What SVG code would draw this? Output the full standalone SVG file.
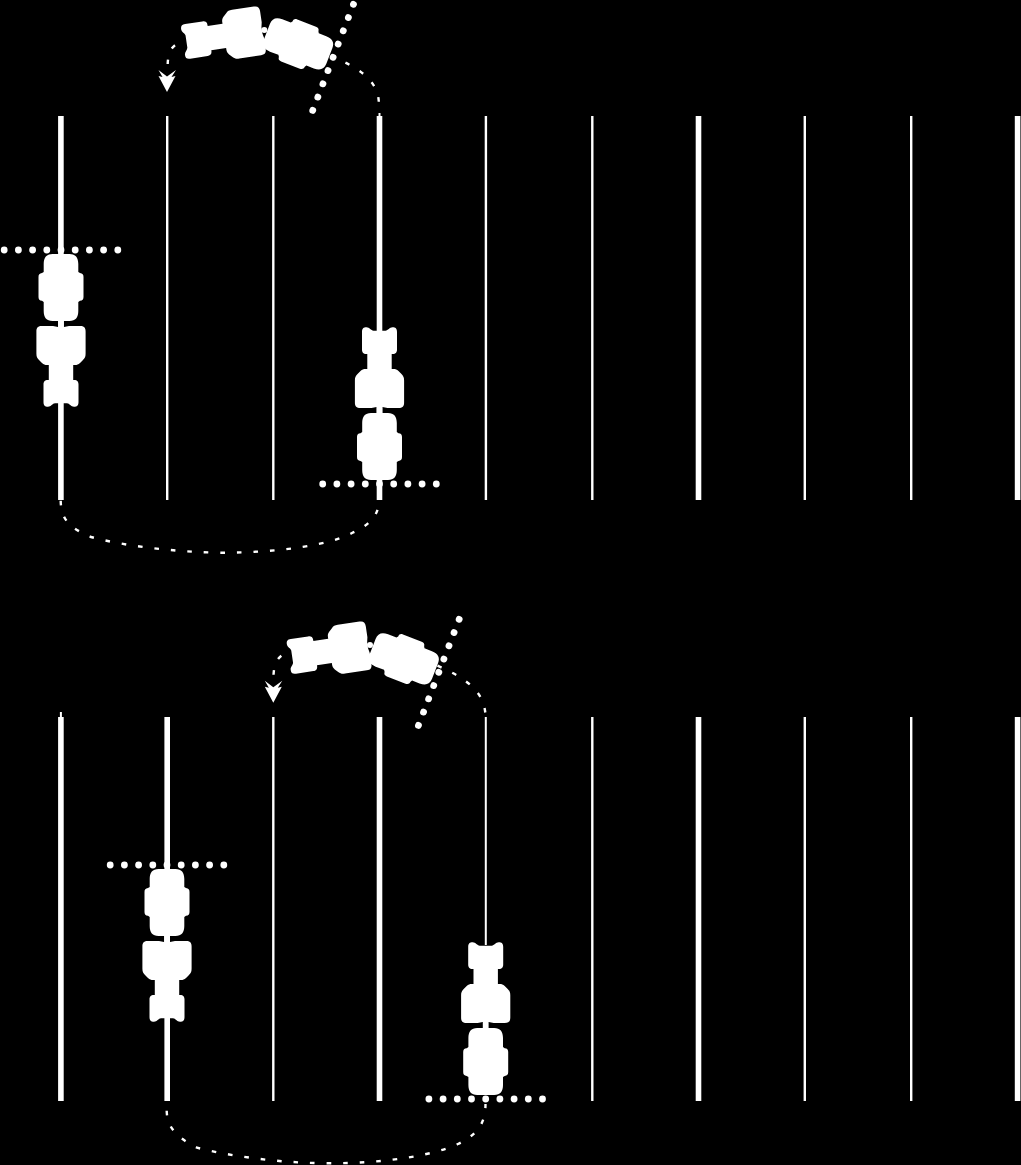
<svg xmlns="http://www.w3.org/2000/svg" xmlns:xlink="http://www.w3.org/1999/xlink" width="1021" height="1165" viewBox="0 0 1021 1165">
<style>
.w{fill:#fff}
.t{stroke:#fff;stroke-width:2.4;fill:none}
.b{stroke:#fff;stroke-width:5.6;fill:none}
.d{stroke:#fff;stroke-width:2.4;fill:none;stroke-dasharray:4.6 11.9}
</style>
<defs>
<path id="tractor" class="w" d="M-19,-19.5 L-8,-19.5 L-3,-18.5 L3,-18.5 L8,-19.5 L19,-19.5 C23,-19.5 24.6,-18 24.6,-14 L24.6,8 C24.6,11 24,12.5 22,14.5 L19,17.5 C17.3,19 16,19.5 14,19.5 L12.2,19.5 L12.2,34.5 L13,34.5 C16.5,34.5 17.5,36.5 17.5,39 L17.5,56.5 C17.5,60 16,61.2 13,61.2 C10,61.2 8.5,58 6,57.8 L-6,57.8 C-8.5,58 -10,61.2 -13,61.2 C-16,61.2 -17.5,60 -17.5,56.5 L-17.5,39 C-17.5,36.5 -16.5,34.5 -13,34.5 L-12.2,34.5 L-12.2,19.5 L-14,19.5 C-16,19.5 -17.3,19 -19,17.5 L-22,14.5 C-24,12.5 -24.6,11 -24.6,8 L-24.6,-14 C-24.6,-18 -23,-19.5 -19,-19.5 Z"/>
<path id="implement" class="w" d="M-8.5,-33.5 L8.5,-33.5 C14.5,-33.5 17.3,-30 17.3,-23.5 L17.3,-15.5 L19,-14.5 C21.5,-14.2 22.5,-13 22.5,-10.5 L22.5,9.5 C22.5,12 21.5,13 19,13.3 L17.3,14.5 L17.3,23.5 C17.3,30 14.5,33.5 8.5,33.5 L-8.5,33.5 C-14.5,33.5 -17.3,30 -17.3,23.5 L-17.3,14.5 L-19,13.3 C-21.5,13 -22.5,12 -22.5,9.5 L-22.5,-10.5 C-22.5,-13 -21.5,-14.2 -19,-14.5 L-17.3,-15.5 L-17.3,-23.5 C-17.3,-30 -14.5,-33.5 -8.5,-33.5 Z"/>
<g id="dots" class="w">
<circle cx="-56.8" r="3.4"/><circle cx="-42.6" r="3.4"/><circle cx="-28.4" r="3.4"/><circle cx="-14.2" r="3.4"/><circle cx="0" r="3.4"/><circle cx="14.2" r="3.4"/><circle cx="28.4" r="3.4"/><circle cx="42.6" r="3.4"/><circle cx="56.8" r="3.4"/>
</g>
<g id="rig">
<rect class="w" x="-2.9" y="319" width="5.8" height="8"/>
<use href="#tractor" xlink:href="#tractor" y="345.5"/>
<use href="#implement" xlink:href="#implement" y="287.5"/>
<use href="#dots" xlink:href="#dots" y="250"/>
</g>
<g id="turning">
<use href="#tractor" xlink:href="#tractor" transform="translate(243.6,33) rotate(81.5)"/>
<g transform="translate(298.1,43.9) rotate(111)"><use href="#implement" xlink:href="#implement"/><use href="#dots" xlink:href="#dots" y="-37.5"/></g>
<circle class="w" cx="264.3" cy="30" r="3"/>
</g>
<path id="chevrons" class="w" d="M158.5,70 L167,76.5 L176,70 L171.5,77 L175.5,76 L167,92 L158.5,76 L162.5,77 Z"/>
</defs>
<rect width="1021" height="1165" fill="#000"/>
<g id="rows-top">
<path class="b" d="M60.9,116V500M379.5,116V500M698.5,116V500M1017.6,116V500"/>
<path class="t" d="M167.2,116V500M273.3,116V500M485.9,116V500M592.3,116V500M804.8,116V500M911.2,116V500"/>
<path stroke="#fff" stroke-width="2" fill="none" d="M379.5,113V117"/>
</g>
<g id="rows-bottom">
<path class="b" d="M60.9,717V1101M167.2,717V1101M379.5,717V1101M698.5,717V1101M1017.6,717V1101"/>
<path class="t" d="M273.3,717V1101M592.3,717V1101M804.8,717V1101M911.2,717V1101"/>
<path stroke="#fff" stroke-width="2" fill="none" d="M485.8,717V945M60.9,712V717"/>
</g>
<g id="connectors">
<path class="d" d="M60.7,500.7 C61,520 70,528 91,537 C120,545 170,552 222,552.7 C280,552.5 330,545 352,533 C370,525 379,515 379,500"/>
<path class="d" d="M166.7,1110.7 C167,1127 176,1137 197,1147.7 C225,1155 275,1163 328,1163.3 C385,1163.5 435,1155 458,1144 C476,1135 485.5,1125 485.5,1104"/>
<path class="d" d="M378.8,101.7 C378,85 366,72 340,60"/>
<path class="d" d="M175,45.3 C170,49 168,55 167.7,64"/>
<path class="d" d="M485.3,712.5 C483,693 470,680 437.5,665.7"/>
<path class="d" d="M281.3,655.8 C276,660 274,666 273.5,675"/>
</g>
<g id="tractor-a"><use href="#rig" xlink:href="#rig" transform="translate(61,0)"/></g>
<g id="tractor-b"><use href="#rig" xlink:href="#rig" transform="translate(379.5,734) scale(1,-1)"/></g>
<g id="tractor-c"><use href="#rig" xlink:href="#rig" transform="translate(167,615)"/></g>
<g id="tractor-d"><use href="#rig" xlink:href="#rig" transform="translate(485.7,1349) scale(1,-1)"/></g>
<g id="tractor-e"><use href="#turning" xlink:href="#turning"/><use href="#chevrons" xlink:href="#chevrons"/></g>
<g id="tractor-f"><use href="#turning" xlink:href="#turning" transform="translate(105.7,615)"/><use href="#chevrons" xlink:href="#chevrons" transform="translate(106.3,610.7)"/></g>
</svg>
